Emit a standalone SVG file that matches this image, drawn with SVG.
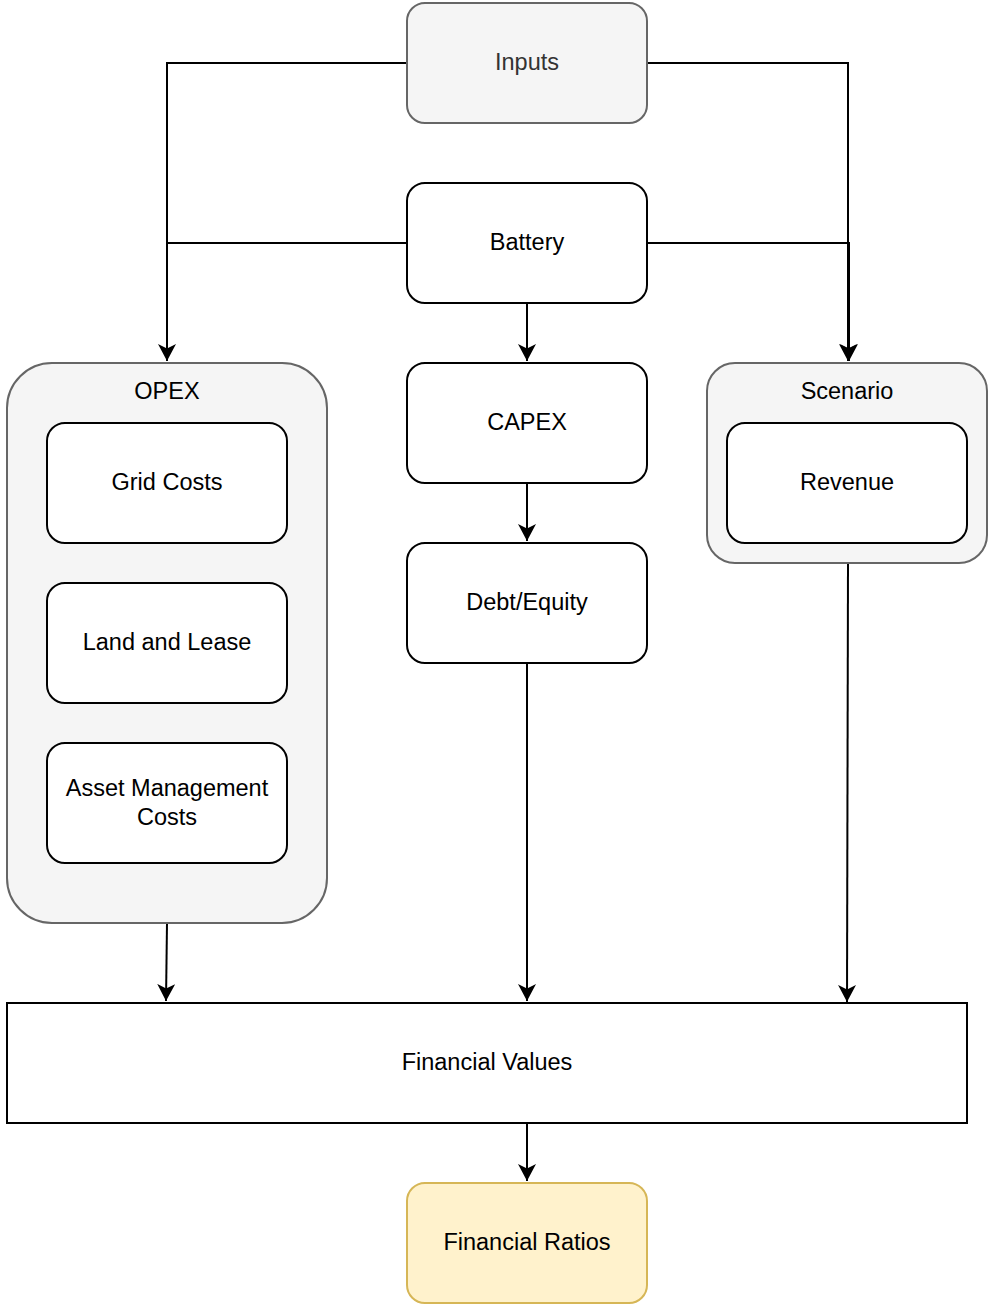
<svg xmlns="http://www.w3.org/2000/svg" width="989" height="1305" viewBox="0 0 989 1305">
  <defs>
    <marker id="arrow" markerUnits="userSpaceOnUse" markerWidth="20" markerHeight="20" refX="17" refY="9" orient="auto">
      <path d="M0,0 L17,9 L0,18 L4.5,9 Z" fill="#000"/>
    </marker>
    <style>
      .box { fill: #ffffff; stroke: #000000; stroke-width: 2; }
      .grey { fill: #f5f5f5; stroke: #666666; stroke-width: 2; }
      .yellow { fill: #fff2cc; stroke: #d6b656; stroke-width: 2; }
      .lbl { font-family: "Liberation Sans", Arial, sans-serif; font-size: 23.5px; fill: #000; text-anchor: middle; dominant-baseline: central; }
      .lbl-grey { fill: #333333; }
      .edge { fill: none; stroke: #000; stroke-width: 2; }
      .arr { marker-end: url(#arrow); }
    </style>
  </defs>

  <!-- connectors -->
  <g id="connectors">
    <polyline class="edge arr" points="407,63 167,63 167,361"/>
    <polyline class="edge arr" points="647,63 848,63 848,361"/>
    <polyline class="edge" points="407,243 167,243"/>
    <polyline class="edge arr" points="647,243 849,243 849,361"/>
    <line class="edge arr" x1="527" y1="303" x2="527" y2="361"/>
    <line class="edge arr" x1="527" y1="483" x2="527" y2="541"/>
    <line class="edge arr" x1="527" y1="663" x2="527" y2="1001"/>
    <line class="edge arr" x1="167" y1="923" x2="166" y2="1001"/>
    <line class="edge arr" x1="848" y1="563" x2="847" y2="1002"/>
    <line class="edge arr" x1="527" y1="1123" x2="527" y2="1181"/>
  </g>

  <g id="inputs">
    <rect class="grey" x="407" y="3" width="240" height="120" rx="18"/>
    <text class="lbl lbl-grey" x="527" y="62">Inputs</text>
  </g>
  <g id="battery">
    <rect class="box" x="407" y="183" width="240" height="120" rx="18"/>
    <text class="lbl" x="527" y="242">Battery</text>
  </g>
  <g id="capex">
    <rect class="box" x="407" y="363" width="240" height="120" rx="18"/>
    <text class="lbl" x="527" y="422">CAPEX</text>
  </g>
  <g id="debt-equity">
    <rect class="box" x="407" y="543" width="240" height="120" rx="18"/>
    <text class="lbl" x="527" y="602">Debt/Equity</text>
  </g>

  <g id="opex">
    <rect class="grey" x="7" y="363" width="320" height="560" rx="45"/>
    <text class="lbl" x="167" y="391">OPEX</text>
  </g>
  <g id="grid-costs">
    <rect class="box" x="47" y="423" width="240" height="120" rx="18"/>
    <text class="lbl" x="167" y="482">Grid Costs</text>
  </g>
  <g id="land-lease">
    <rect class="box" x="47" y="583" width="240" height="120" rx="18"/>
    <text class="lbl" x="167" y="642">Land and Lease</text>
  </g>
  <g id="asset-management">
    <rect class="box" x="47" y="743" width="240" height="120" rx="18"/>
    <text class="lbl" x="167" y="788">Asset Management</text>
    <text class="lbl" x="167" y="817">Costs</text>
  </g>

  <g id="scenario">
    <rect class="grey" x="707" y="363" width="280" height="200" rx="28"/>
    <text class="lbl" x="847" y="391">Scenario</text>
  </g>
  <g id="revenue">
    <rect class="box" x="727" y="423" width="240" height="120" rx="18"/>
    <text class="lbl" x="847" y="482">Revenue</text>
  </g>

  <g id="financial-values">
    <rect class="box" x="7" y="1003" width="960" height="120"/>
    <text class="lbl" x="487" y="1062">Financial Values</text>
  </g>
  <g id="financial-ratios">
    <rect class="yellow" x="407" y="1183" width="240" height="120" rx="18"/>
    <text class="lbl" x="527" y="1242">Financial Ratios</text>
  </g>
</svg>
